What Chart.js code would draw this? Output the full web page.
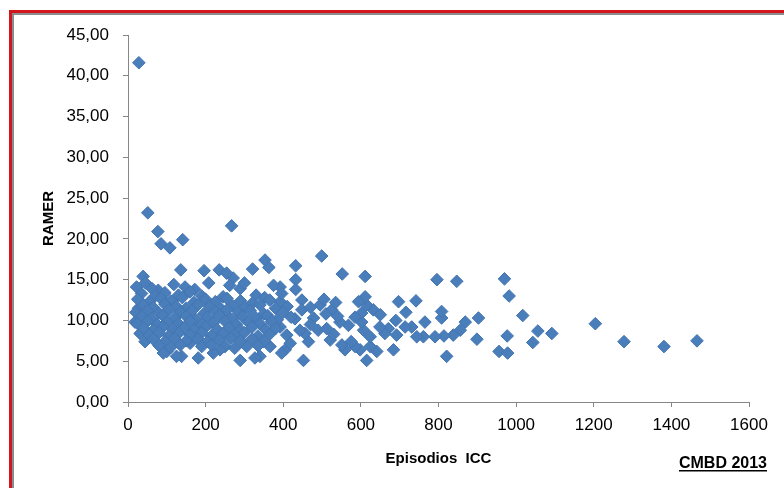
<!DOCTYPE html>
<html>
<head>
<meta charset="utf-8">
<script src="https://cdn.jsdelivr.net/npm/chart.js@4/dist/chart.umd.min.js"></script>
<style>
  html, body { margin: 0; padding: 0; background: #fff; }
  #wrap { width: 784px; height: 488px; position: relative; }
</style>
</head>
<body>
<div id="wrap"><canvas id="grafico"></canvas></div>
<script>
// Episodios ICC por hospital (eje X) y RAMER (eje Y), CMBD 2013
const episodios = [
  28, 51, 77, 85, 108, 141, 267, 39, 136, 196,
  235, 321, 353, 363, 499, 432, 432, 432, 552, 611,
  796, 847, 970, 982, 1017, 903, 869, 977, 956, 978,
  1056, 1043, 1092, 1204, 1278, 1381, 1466, 899, 856, 838,
  814, 791, 761, 744, 731, 714, 765, 808, 808, 716,
  742, 697, 821, 692, 671, 662, 649, 684, 641, 624,
  615, 598, 585, 559, 551, 624, 607, 602, 602, 632,
  615, 611, 594, 568, 546, 525, 495, 478, 490, 512,
  521, 465, 456, 443, 409, 392, 405, 452, 448, 448,
  392, 392, 271, 289, 254, 375, 396, 418, 396, 366,
  340, 327, 289, 306, 250, 237, 220, 181, 138, 125,
  100, 91, 160, 44, 31, 18, 27, 22, 78,
  505, 535, 470, 510, 540, 430, 575, 585, 650, 690, 530, 470,
  // nube densa 0-420
  45, 62, 118, 147, 172, 208, 262, 300,
  35, 70, 95, 130, 160, 190, 245, 330, 352,
  25, 55, 85, 110, 140, 170, 200, 225, 255, 290, 320, 365,
  40, 65, 95, 125, 150, 180, 210, 240, 270, 300, 340, 380, 410,
  20, 50, 80, 105, 135, 165, 195, 225, 255, 285, 315, 350, 400,
  35, 60, 90, 120, 150, 175, 205, 235, 265, 295, 330, 360, 385, 420,
  25, 50, 75, 100, 130, 160, 190, 220, 250, 280, 310, 340, 370,
  40, 65, 90, 115, 145, 170, 200, 230, 260, 290, 320, 355, 380,
  55, 80, 105, 130, 160, 190, 215, 245, 275, 300, 335, 365,
  65, 95, 120, 150, 180, 205, 235, 265, 290, 320, 350,
  80, 110, 135, 190, 215, 275, 335
];
const ramer = [
  41.6, 23.2, 20.9, 19.4, 18.9, 19.9, 21.6, 15.4, 16.2, 16.1,
  16.2, 16.3, 17.4, 16.5, 17.9, 16.7, 15.0, 13.8, 15.7, 15.4,
  15.0, 14.8, 15.1, 13.0, 10.6, 10.3, 9.8, 8.1, 6.2, 6.0,
  8.7, 7.3, 8.4, 9.6, 7.4, 6.8, 7.5, 7.7, 8.8, 8.2,
  8.1, 8.0, 8.0, 8.0, 9.2, 9.2, 9.8, 10.3, 11.1, 11.0,
  12.4, 12.3, 5.6, 8.2, 9.0, 8.4, 9.2, 6.4, 6.2, 6.8,
  5.1, 6.4, 6.8, 6.4, 7.0, 8.0, 8.8, 9.8, 10.9, 11.3,
  11.9, 12.9, 12.3, 9.4, 9.8, 11.3, 11.9, 10.3, 8.8, 9.0,
  7.6, 7.4, 8.4, 8.8, 8.2, 9.2, 6.4, 5.1, 12.5, 11.3,
  14.1, 12.3, 15.2, 13.9, 15.8, 14.3, 13.3, 7.2, 6.0, 6.8,
  5.6, 5.4, 5.1, 6.8, 6.8, 6.4, 6.0, 5.4, 5.6, 5.6,
  6.2, 6.0, 7.2, 7.4, 8.4, 9.8, 11.5, 14.1, 13.7,
  12.6, 12.2, 11.6, 10.8, 10.5, 10.2, 7.4, 10.4, 10.7, 10.0, 8.3, 9.5,
  // nube densa 0-420
  14.6, 13.9, 14.4, 14.1, 13.8, 14.6, 14.3, 14.6,
  13.3, 13.0, 13.4, 13.1, 13.5, 13.0, 12.9, 13.1, 12.8,
  12.6, 12.3, 12.7, 12.4, 12.8, 12.2, 12.6, 12.3, 12.7, 12.4, 12.1, 12.5,
  11.9, 11.6, 12.0, 11.7, 11.5, 11.9, 11.7, 11.4, 11.8, 11.6, 11.9, 11.5, 11.7,
  11.0, 11.2, 10.9, 11.3, 11.0, 11.2, 10.8, 11.1, 11.3, 10.9, 11.2, 10.8, 11.0,
  10.5, 10.2, 10.6, 10.3, 10.5, 10.1, 10.4, 10.6, 10.2, 10.5, 10.3, 10.6, 10.1, 10.4,
  9.6, 9.9, 9.5, 9.8, 9.6, 9.9, 9.5, 9.7, 9.9, 9.5, 9.8, 9.6, 9.9,
  9.1, 8.8, 9.2, 8.9, 9.1, 8.8, 9.2, 8.9, 9.1, 8.8, 9.2, 8.9, 9.0,
  8.2, 8.5, 8.1, 8.4, 8.2, 8.5, 8.1, 8.4, 8.2, 8.5, 8.1, 8.3,
  7.7, 7.4, 7.8, 7.5, 7.7, 7.4, 7.6, 7.8, 7.5, 7.7, 7.4,
  6.9, 6.7, 7.0, 6.8, 7.0, 6.6, 6.9
];
const ticksY = [0, 5, 10, 15, 20, 25, 30, 35, 40, 45];
const ticksX = [0, 200, 400, 600, 800, 1000, 1200, 1400, 1600];

const fuente = "'Liberation Sans', Arial, sans-serif";

const puntos = episodios.map((x, i) => ({ x: x, y: ramer[i] }));

// marco rojo del gráfico y la nota "CMBD 2013"
const marco = {
  id: 'marco',
  beforeDraw(chart) {
    const c = chart.ctx;
    c.save();
    c.fillStyle = '#ffffff';
    c.fillRect(0, 0, chart.width, chart.height);
    c.fillStyle = '#d3161e';
    c.fillRect(9, 10, 3, chart.height - 10);
    c.fillRect(9, 10, chart.width - 9, 3);
    c.fillStyle = '#8c8c8c';
    c.fillRect(12, 13, 2, chart.height - 13);
    c.fillRect(12, 13, chart.width - 12, 2);
    c.restore();
  },
  afterDraw(chart) {
    const c = chart.ctx;
    c.save();
    c.font = "bold 16px " + fuente;
    c.fillStyle = '#000';
    c.textAlign = 'right';
    c.textBaseline = 'alphabetic';
    c.fillText('CMBD 2013', 767, 468);
    const w = c.measureText('CMBD 2013').width;
    c.fillRect(767 - w, 470, w, 1.5);
    c.restore();
  }
};

new Chart(document.getElementById('grafico'), {
  type: 'scatter',
  data: {
    datasets: [{
      label: 'RAMER',
      data: puntos,
      pointStyle: 'rectRot',
      pointRadius: 6.3,
      pointHoverRadius: 6.3,
      backgroundColor: '#4a7ebb',
      borderColor: '#4275b2',
      borderWidth: 1
    }]
  },
  options: {
    responsive: true,
    maintainAspectRatio: false,
    animation: false,
    layout: { padding: { left: 0, top: 35, right: 35, bottom: 0 } },
    plugins: {
      legend: { display: false },
      tooltip: { enabled: false }
    },
    scales: {
      x: {
        type: 'linear',
        min: 0,
        max: 1600,
        afterBuildTicks: (axis) => { axis.ticks = ticksX.map(v => ({ value: v })); },
        afterFit: (axis) => { axis.height = 86; },
        grid: { display: true, drawOnChartArea: false, drawTicks: true, tickLength: 5, color: '#868686' },
        border: { color: '#868686', width: 1 },
        ticks: {
          color: '#000',
          padding: 8,
          font: { family: fuente, size: 17 },
          maxRotation: 0,
          callback: (v) => String(v)
        },
        title: {
          display: true,
          text: 'Episodios  ICC',
          color: '#000',
          font: { family: fuente, size: 15, weight: 'bold' },
          padding: { top: 0, bottom: 20 }
        }
      },
      y: {
        type: 'linear',
        min: 0,
        max: 45,
        afterBuildTicks: (axis) => { axis.ticks = ticksY.map(v => ({ value: v })); },
        afterFit: (axis) => { axis.width = 128; },
        grid: { display: true, drawOnChartArea: false, drawTicks: true, tickLength: 5, color: '#868686' },
        border: { color: '#868686', width: 1 },
        ticks: {
          color: '#000',
          padding: 14,
          font: { family: fuente, size: 17 },
          callback: (v) => v.toFixed(2).replace('.', ',')
        },
        title: {
          display: true,
          text: 'RAMER',
          color: '#000',
          font: { family: fuente, size: 15, weight: 'bold' },
          padding: { top: 40, bottom: 0 }
        }
      }
    }
  },
  plugins: [marco]
});
</script>
</body>
</html>
